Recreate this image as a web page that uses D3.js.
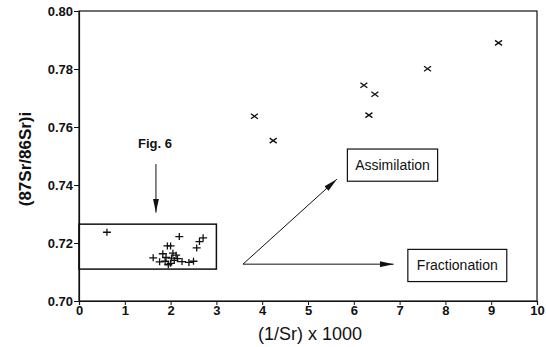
<!doctype html>
<html>
<head>
  <script src="https://d3js.org/d3.v7.min.js"></script>
  <style>
    body { margin: 0; background: #fff; }
    text { font-family: "Liberation Sans", Arial, sans-serif; fill: #111; }
  </style>
</head>
<body>
<svg width="546" height="347"></svg>
<script>
// granites (x marks): [1/Sr x 1000, (87Sr/86Sr)i]
var crossX = [3.83, 4.24, 6.22, 6.46, 6.33, 7.61, 9.16];
var crossY = [0.7637, 0.7553, 0.7744, 0.7713, 0.7641, 0.7801, 0.7890];

// Fig. 6 samples (+ marks)
var plusX = [0.61, 2.19, 2.71, 2.63, 2.57, 1.93, 2.00, 1.83, 2.05, 2.12, 1.62,
             1.90, 2.02, 2.15, 1.76, 1.88, 2.00, 1.95, 2.25, 2.40, 2.50, 2.08];
var plusY = [0.7237, 0.7222, 0.7218, 0.7205, 0.7183, 0.7190, 0.7190, 0.7163, 0.7165, 0.7158, 0.7149,
             0.7150, 0.7148, 0.7146, 0.7135, 0.7137, 0.7130, 0.7125, 0.7136, 0.7133, 0.7137, 0.7140];

var xTicks = [0, 1, 2, 3, 4, 5, 6, 7, 8, 9, 10];
var yTicks = [0.70, 0.72, 0.74, 0.76, 0.78, 0.80];

var margin = {top: 11, right: 9, bottom: 46, left: 79};
var width = 546 - margin.left - margin.right;
var height = 347 - margin.top - margin.bottom;

var svg = d3.select("svg");
var defs = svg.append("defs");
defs.append("marker")
  .attr("id", "head")
  .attr("viewBox", "0 0 14 6")
  .attr("refX", 14).attr("refY", 3)
  .attr("markerWidth", 14).attr("markerHeight", 6)
  .attr("markerUnits", "userSpaceOnUse")
  .attr("orient", "auto")
  .append("path").attr("d", "M0,0 L14,3 L0,6 Z").attr("fill", "#111");

var g = svg.append("g").attr("transform", "translate(" + margin.left + "," + margin.top + ")");

var x = d3.scaleLinear().domain([0, 10]).range([0, width]);
var y = d3.scaleLinear().domain([0.70, 0.80]).range([height, 0]);

// frame
g.append("rect").attr("x", 0).attr("y", 0).attr("width", width).attr("height", height)
  .attr("fill", "none").attr("stroke", "#111").attr("stroke-width", 1.2);

var xAxis = g.append("g").attr("transform", "translate(0," + height + ")")
  .call(d3.axisBottom(x).tickValues(xTicks).tickSize(4).tickFormat(d3.format("d")));
var yAxis = g.append("g")
  .call(d3.axisLeft(y).tickValues(yTicks).tickSize(5).tickFormat(d3.format(".2f")));
[xAxis, yAxis].forEach(function(a) {
  a.select(".domain").attr("stroke", "#111").attr("stroke-width", 1.2);
  a.selectAll("line").attr("stroke", "#111");
  a.selectAll("text").attr("font-size", "13px").attr("font-weight", "bold")
    .attr("font-family", "Liberation Sans, Arial, sans-serif").attr("fill", "#111");
});
xAxis.selectAll("text").attr("dy", "0.5em");
yAxis.selectAll("text").attr("x", -6);

// axis titles
svg.append("text").attr("x", margin.left + width / 2 + 2).attr("y", 340)
  .attr("text-anchor", "middle").attr("font-size", "18px").text("(1/Sr) x 1000");
svg.append("text").attr("transform", "translate(31," + (margin.top + height / 2 + 3) + ") rotate(-90)")
  .attr("text-anchor", "middle").attr("font-size", "17px").attr("font-weight", "bold").text("(87Sr/86Sr)i");

// Fig. 6 box
g.append("rect")
  .attr("x", x(0)).attr("y", y(0.7265))
  .attr("width", x(3) - x(0)).attr("height", y(0.711) - y(0.7265))
  .attr("fill", "none").attr("stroke", "#111").attr("stroke-width", 1.5);

g.append("text").attr("x", x(1.66)).attr("y", y(0.7543)).attr("dy", "0.35em")
  .attr("text-anchor", "middle").attr("font-size", "13px").attr("font-weight", "bold").text("Fig. 6");
g.append("line").attr("x1", x(1.68)).attr("y1", y(0.7472)).attr("x2", x(1.68)).attr("y2", y(0.7305))
  .attr("stroke", "#111").attr("stroke-width", 1).attr("marker-end", "url(#head)");

// process arrows
g.append("line").attr("x1", x(3.58)).attr("y1", y(0.7127)).attr("x2", x(5.63)).attr("y2", y(0.742))
  .attr("stroke", "#111").attr("stroke-width", 1).attr("marker-end", "url(#head)");
g.append("line").attr("x1", x(3.58)).attr("y1", y(0.7127)).attr("x2", x(6.87)).attr("y2", y(0.7127))
  .attr("stroke", "#111").attr("stroke-width", 1).attr("marker-end", "url(#head)");

// labels in boxes
function labelBox(x0, x1, y0, y1, txt) {
  g.append("rect").attr("x", x(x0)).attr("y", y(y1))
    .attr("width", x(x1) - x(x0)).attr("height", y(y0) - y(y1))
    .attr("fill", "#fff").attr("stroke", "#111").attr("stroke-width", 1.2);
  g.append("text").attr("x", (x(x0) + x(x1)) / 2).attr("y", (y(y0) + y(y1)) / 2).attr("dy", "0.35em")
    .attr("text-anchor", "middle").attr("font-size", "14px").text(txt);
}
labelBox(5.86, 7.83, 0.7413, 0.7524, "Assimilation");
labelBox(7.18, 9.34, 0.7067, 0.7178, "Fractionation");

// x marks
var crosses = d3.range(crossX.length);
g.selectAll(".cross").data(crosses).enter().append("path")
  .attr("class", "cross")
  .attr("transform", function(i) { return "translate(" + x(crossX[i]) + "," + y(crossY[i]) + ")"; })
  .attr("d", "M-3.5,-2.5 L3.5,2.5 M-3.5,2.5 L3.5,-2.5")
  .attr("stroke", "#111").attr("stroke-width", 1.3).attr("fill", "none");

// + marks
var pluses = d3.range(plusX.length);
g.selectAll(".plus").data(pluses).enter().append("path")
  .attr("class", "plus")
  .attr("transform", function(i) { return "translate(" + x(plusX[i]) + "," + y(plusY[i]) + ")"; })
  .attr("d", "M-4,0 L4,0 M0,-3.5 L0,3.5")
  .attr("stroke", "#111").attr("stroke-width", 1.3).attr("fill", "none");
</script>
</body>
</html>
